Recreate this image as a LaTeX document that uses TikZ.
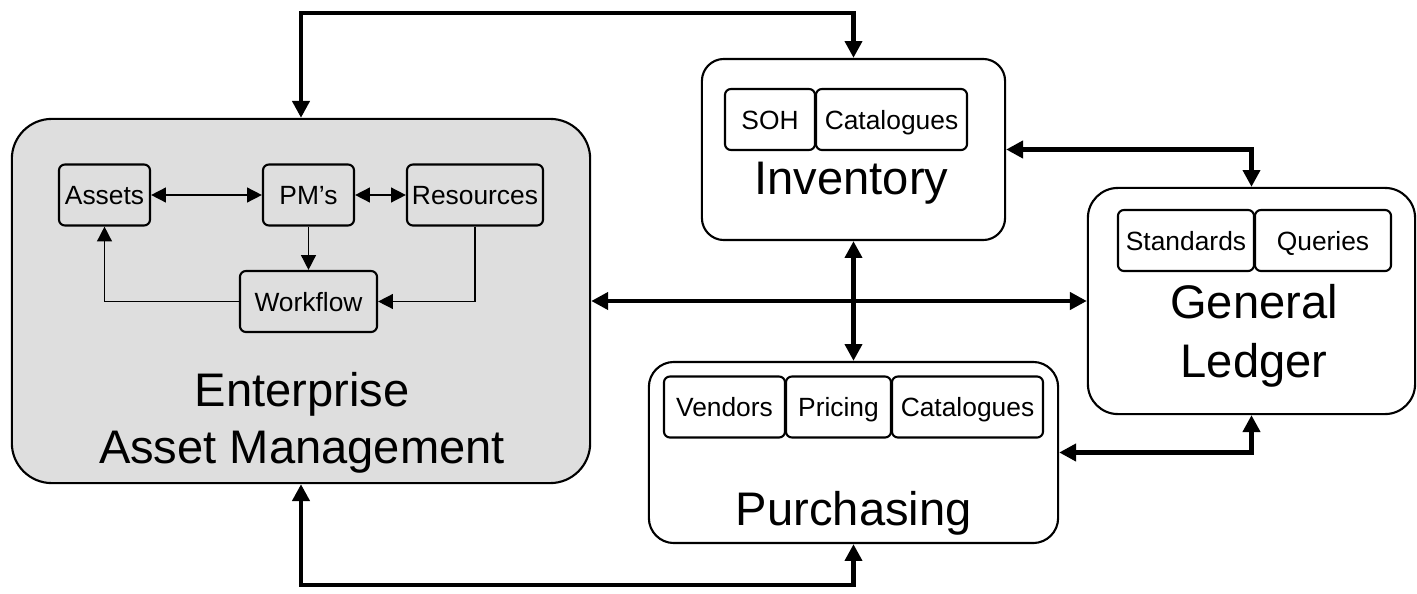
\documentclass[tikz,border=0pt]{standalone}
\usepackage{fontspec}
\setmainfont{Liberation Sans}
\usetikzlibrary{arrows.meta}

\begin{document}
\begin{tikzpicture}[x=0.01cm,y=-0.01cm,
    bigbox/.style={draw,line width=0.6pt,rounded corners=#1,inner sep=0pt},
    subbox/.style={draw,line width=0.6pt,rounded corners=0.06cm,inner sep=0pt,
      minimum height=0.61cm,text height=5.6pt,text depth=0pt,
      font=\fontsize{7.5}{9}\selectfont},
    title/.style={font=\fontsize{13.4}{16.5}\selectfont,inner sep=0pt,anchor=base},
    bus/.style={line width=1.4pt,>={Triangle[length=4.8pt,width=4.8pt]}},
    link/.style={line width=0.45pt,>={Triangle[length=4.2pt,width=4.2pt]}}]
  \useasboundingbox (0,0) rectangle (1417,594);
  \coordinate (top) at (0,13);
  \coordinate (bottom) at (0,585);
  % enterprise asset management
  \node[bigbox=0.4cm,fill=black!13,minimum width=5.78cm,minimum height=3.64cm](eam)at(301,301){};
  \node[subbox,fill=black!13,minimum width=0.91cm](assets)at(104.5,195){Assets};
  \node[subbox,fill=black!13,minimum width=0.91cm](pms)at(308.5,195){PM’s};
  \node[subbox,fill=black!13,minimum width=1.36cm](resources)at(475,195){Resources};
  \node[subbox,fill=black!13,minimum width=1.37cm](workflow)at(308.5,301.5){Workflow};
  \node[title](eamt1)at(302,406){Enterprise};
  \node[title](eamt2)at(302,463){Asset Management};
  \draw[link,<->](assets)--(pms);
  \draw[link,<->](pms)--(resources);
  \draw[link,->](pms)--(workflow);
  \draw[link,->](workflow.west)-|(assets.south);
  \draw[link,->](resources.south)|-(workflow.east);
  % inventory
  \node[bigbox=0.22cm,minimum width=3.03cm,minimum height=1.81cm](inv)at(853.5,149.5){};
  \node[subbox,minimum width=0.90cm](soh)at(770,119.5){SOH};
  \node[subbox,minimum width=1.51cm](invcat)at(891.5,119.5){Catalogues};
  \node[title](invt)at(851.5,195){Inventory};
  % general ledger
  \node[bigbox=0.3cm,minimum width=3.27cm,minimum height=2.26cm](gl)at(1251.5,301){};
  \node[subbox,minimum width=1.36cm](standards)at(1186,240.5){Standards};
  \node[subbox,minimum width=1.36cm](queries)at(1323,240.5){Queries};
  \node[title](glt1)at(1254,318){General};
  \node[title](glt2)at(1254,377){Ledger};
  % purchasing
  \node[bigbox=0.25cm,minimum width=4.09cm,minimum height=1.81cm](pur)at(853.5,452.5){};
  \node[subbox,minimum width=1.21cm](vendors)at(724.5,407){Vendors};
  \node[subbox,minimum width=1.05cm](pricing)at(838.5,407){Pricing};
  \node[subbox,minimum width=1.51cm](purcat)at(967.5,407){Catalogues};
  \node[title](purt)at(853.8,525){Purchasing};
  % links between the systems
  \draw[bus,<->](eam.north)--(eam.north |- top)-|(inv.north);
  \draw[bus,<->](eam.south)--(eam.south |- bottom)-|(pur.south);
  \draw[bus,<->](eam.east)--(gl.west);
  \draw[bus,<->](inv)--(pur);
  \draw[bus,<->](inv.east)-|(gl.north);
  \draw[bus,<->](pur.east)-|(gl.south);
\end{tikzpicture}
\end{document}
